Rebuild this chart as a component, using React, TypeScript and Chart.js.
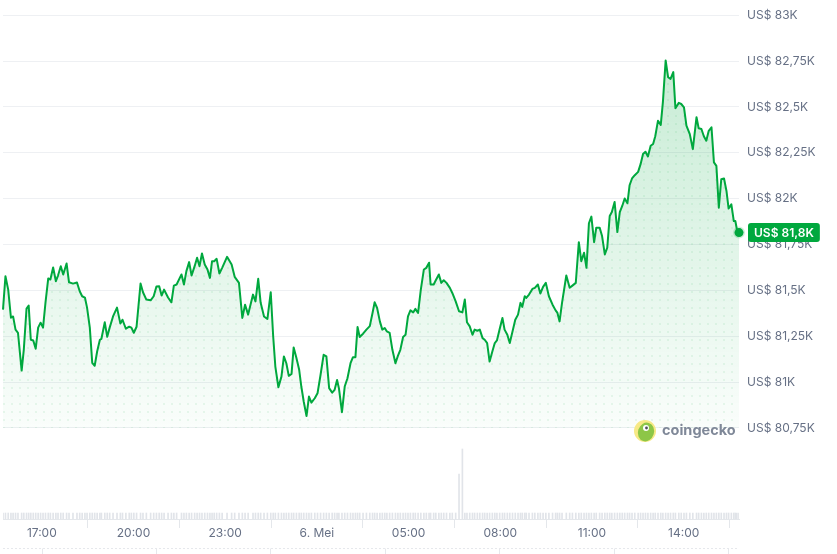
import React, { useEffect, useRef } from "react";
import { Chart, registerables } from "chart.js";

Chart.register(...registerables);

// time of each sample, in hours counted from 00:00 on 5 May (24+ = 6 May)
const times = [
  15.73, 15.81, 15.9, 15.99, 16.06, 16.14, 16.22, 16.34, 16.41, 16.5,
  16.57, 16.64, 16.72, 16.8, 16.88, 16.96, 17.04, 17.12, 17.21, 17.28,
  17.37, 17.46, 17.53, 17.62, 17.7, 17.81, 17.89, 18.02, 18.15, 18.24,
  18.32, 18.41, 18.48, 18.57, 18.65, 18.73, 18.81, 18.9, 18.95, 19.06,
  19.14, 19.22, 19.33, 19.46, 19.57, 19.64, 19.75, 19.86, 19.93, 20.01,
  20.1, 20.23, 20.31, 20.42, 20.56, 20.66, 20.75, 20.84, 20.92, 21.0,
  21.13, 21.24, 21.32, 21.41, 21.57, 21.65, 21.73, 21.82,
  21.9, 22.0, 22.08, 22.16, 22.24, 22.33, 22.42, 22.5, 22.57, 22.64,
  22.72, 22.81, 22.9, 23.06, 23.21, 23.31, 23.45, 23.56, 23.65, 23.75,
  23.91, 23.99, 24.08, 24.16, 24.27, 24.38, 24.49, 24.57, 24.64, 24.74,
  24.84, 24.92, 25.0, 25.08, 25.17, 25.24, 25.33, 25.42, 25.49, 25.57,
  25.66, 25.74, 25.82, 25.93, 26.02, 26.12, 26.22, 26.31, 26.4, 26.5,
  26.58, 26.66, 26.72, 26.82, 26.91, 27.0, 27.1, 27.18, 27.26, 27.33,
  27.4, 27.51, 27.62, 27.73,
  27.82, 27.89, 27.97, 28.06, 28.14, 28.22, 28.29, 28.38, 28.47, 28.57,
  28.65, 28.73, 28.82, 28.9, 28.98, 29.06, 29.15, 29.22, 29.31, 29.4,
  29.5, 29.58, 29.67, 29.72, 29.82, 29.89, 29.99, 30.07, 30.15, 30.24,
  30.35, 30.43, 30.54, 30.65, 30.76, 30.84, 30.91, 31.0, 31.09, 31.16,
  31.25, 31.33, 31.42, 31.49, 31.57, 31.65, 31.74, 31.82, 31.89, 31.98,
  32.07, 32.14, 32.23, 32.31, 32.4, 32.49, 32.58, 32.66, 32.72, 32.8,
  32.85, 32.94, 33.05, 33.13, 33.23, 33.31, 33.4, 33.49, 33.59, 33.71,
  33.81, 33.87, 33.94,
  34.02, 34.16, 34.27, 34.36, 34.47, 34.57, 34.65, 34.74, 34.82, 34.9,
  34.98, 35.07, 35.14, 35.25, 35.33, 35.42, 35.5, 35.58, 35.65, 35.74,
  35.83, 35.91, 35.99, 36.07, 36.16, 36.23, 36.31, 36.4, 36.51, 36.59,
  36.67, 36.75, 36.83, 36.92, 37.0, 37.07, 37.16, 37.25, 37.32, 37.41,
  37.49, 37.57, 37.66, 37.73, 37.84, 37.92, 38.01, 38.09, 38.2, 38.3,
  38.42, 38.49, 38.58, 38.66, 38.74, 38.82, 38.91, 38.99, 39.07, 39.15,
  39.23, 39.32, 39.4, 39.47, 39.56, 39.64, 39.69, 39.74, 39.81,
];

// BTC price in US$
const prices = [
  81395, 81577, 81504, 81351, 81358, 81286, 81269, 81063, 81176, 81401,
  81417, 81231, 81227, 81182, 81297, 81324, 81297, 81433, 81565, 81559,
  81625, 81550, 81581, 81632, 81587, 81647, 81544, 81537, 81543, 81495,
  81468, 81461, 81406, 81297, 81105, 81089, 81167, 81231, 81236, 81326,
  81247, 81297, 81358, 81406, 81319, 81340, 81291, 81302, 81297, 81269,
  81302, 81537, 81490, 81450, 81446, 81468, 81521, 81522, 81472, 81504,
  81461, 81435, 81526, 81532, 81587, 81532, 81605, 81654,
  81581, 81632, 81678, 81632, 81701, 81641, 81614, 81568, 81659, 81659,
  81672, 81592, 81623, 81683, 81641, 81574, 81541, 81350, 81422, 81368,
  81477, 81440, 81563, 81432, 81358, 81344, 81490, 81249, 81085, 80972,
  81030, 81140, 81103, 81034, 81045, 81189, 81131, 81067, 80976, 80893,
  80815, 80921, 80888, 80912, 80939, 81040, 81149, 81140, 80967, 80943,
  80958, 81012, 80967, 80836, 80976, 81021, 81103, 81136, 81136, 81300,
  81246, 81264, 81286, 81305,
  81377, 81435, 81404, 81331, 81286, 81295, 81276, 81268, 81176, 81103,
  81143, 81176, 81246, 81258, 81358, 81391, 81380, 81399, 81377, 81504,
  81614, 81623, 81651, 81532, 81532, 81555, 81587, 81541, 81555, 81541,
  81514, 81486, 81440, 81386, 81380, 81450, 81326, 81304, 81258, 81286,
  81280, 81286, 81240, 81231, 81213, 81112, 81167, 81213, 81227, 81290,
  81350, 81286, 81258, 81213, 81276, 81340, 81368, 81432, 81410, 81468,
  81459, 81477, 81508, 81514, 81532, 81483, 81519, 81541, 81468, 81422,
  81391, 81377, 81331,
  81432, 81581, 81514, 81526, 81541, 81763, 81659, 81705, 81623, 81866,
  81902, 81763, 81842, 81842, 81796, 81696, 81733, 81905, 81927, 81982,
  81818, 81927, 81960, 82001, 81975, 82073, 82110, 82128, 82146, 82188,
  82243, 82256, 82230, 82288, 82298, 82340, 82425, 82402, 82526, 82753,
  82662, 82653, 82690, 82493, 82522, 82516, 82498, 82398, 82352, 82270,
  82444, 82384, 82380, 82340, 82316, 82370, 82389, 82198, 82179, 81951,
  82106, 82110, 82042, 81946, 81969, 81878, 81878, 81833, 81815,
];

// trading volume per sample (relative units)
const volumes = [
  6, 6, 6, 6, 6, 6, 6, 6, 6, 6, 6, 6, 6, 6, 6, 6, 6, 6, 6, 6,
  6, 6, 6, 6, 6, 6, 6, 6, 6, 6, 6, 6, 6, 6, 6, 6, 6, 6, 6, 6,
  6, 6, 6, 6, 6, 6, 6, 6, 6, 6, 6, 6, 6, 6, 6, 6, 6, 6, 6, 6,
  6, 6, 6, 6, 6, 6, 6, 6, 6, 6, 6, 6, 6, 6, 6, 6, 6, 6, 6, 6,
  6, 6, 6, 6, 6, 6, 6, 6, 6, 6, 6, 6, 6, 6, 6, 6, 6, 6, 6, 6,
  6, 6, 6, 6, 6, 6, 6, 6, 6, 6, 6, 6, 6, 6, 6, 6, 6, 6, 6, 6,
  6, 6, 6, 6, 6, 6, 6, 6, 6, 6, 6, 6, 6, 6, 6, 6, 6, 6, 6, 6,
  6, 6, 6, 6, 6, 6, 6, 6, 6, 6, 6, 6, 6, 6, 6, 6, 6, 6, 6, 6,
  6, 6, 6, 6, 6, 45, 70,
  6, 6, 6, 6, 6, 6, 6, 6, 6, 6, 6, 6, 6, 6, 6, 6, 6, 6, 6, 6,
  6, 6, 6, 6, 6, 6, 6, 6, 6, 6, 6, 6, 6, 6, 6, 6, 6, 6, 6, 6,
  6, 6, 6, 6, 6, 6, 6, 6, 6, 6, 6, 6, 6, 6, 6, 6, 6, 6, 6, 6,
  6, 6, 6, 6, 6, 6, 6, 6, 6, 6, 6, 6, 6, 6, 6, 6, 6, 6, 6, 6,
  6, 6, 6, 6, 6, 6, 6, 6, 6, 6, 6, 6, 6, 6, 6, 6, 6, 6, 6, 6,
  6, 6, 6, 6, 6, 6, 6,
];

const yTicks = [80750, 81000, 81250, 81500, 81750, 82000, 82250, 82500, 82750, 83000];
const yTickLabels = [
  "US$ 80,75K", "US$ 81K", "US$ 81,25K", "US$ 81,5K", "US$ 81,75K",
  "US$ 82K", "US$ 82,25K", "US$ 82,5K", "US$ 82,75K", "US$ 83K",
];
const xTicks = [17, 20, 23, 26, 29, 32, 35, 38];
const xTickLabels = ["17:00", "20:00", "23:00", "6. Mei", "05:00", "08:00", "11:00", "14:00"];
const navTicks = [17, 20.73, 24.46, 28.22, 31.95, 35.72, 39.45];
const lastLabel = "US$ 81,8K";

const GREEN = "#00a83e";
const LABEL = "#667085";
const GRID = "#eef0f3";
const FONT = "Inter, 'Noto Sans', sans-serif";

const overlayPlugin = {
  id: "overlay",
  afterDraw(chart: any) {
    const { ctx, chartArea, scales } = chart;
    const ys = scales.y;
    const xs = scales.x;
    ctx.save();

    // navigator strip at the bottom
    const navY = Math.round(xs.top + 29) + 0.5;
    ctx.strokeStyle = "#e6e8ec";
    ctx.lineWidth = 1;
    ctx.setLineDash([2, 2]);
    ctx.beginPath();
    ctx.moveTo(chartArea.left, navY);
    ctx.lineTo(chartArea.right, navY);
    ctx.stroke();
    ctx.setLineDash([]);
    ctx.beginPath();
    navTicks.forEach((t) => {
      const px = Math.round(xs.getPixelForValue(t)) + 0.5;
      ctx.moveTo(px, navY);
      ctx.lineTo(px, chart.height);
    });
    ctx.stroke();

    // coingecko watermark
    const lx = chartArea.right - 94;
    const ly = ys.bottom + 3;
    ctx.fillStyle = "#f7e986";
    ctx.beginPath();
    ctx.arc(lx, ly, 11, 0, Math.PI * 2);
    ctx.fill();
    ctx.fillStyle = "#8dc647";
    ctx.beginPath();
    ctx.ellipse(lx + 1, ly + 1, 8, 9.5, 0.3, 0, Math.PI * 2);
    ctx.fill();
    ctx.fillStyle = "#ffffff";
    ctx.beginPath();
    ctx.arc(lx + 1, ly - 3, 3, 0, Math.PI * 2);
    ctx.fill();
    ctx.fillStyle = "#4b4f58";
    ctx.beginPath();
    ctx.arc(lx + 1.5, ly - 3, 1.4, 0, Math.PI * 2);
    ctx.fill();
    ctx.fillStyle = "#7f8898";
    ctx.font = `700 14.5px ${FONT}`;
    ctx.textBaseline = "middle";
    ctx.textAlign = "left";
    ctx.fillText("coingecko", lx + 17, ly);

    // current price badge
    const last = prices.length - 1;
    const by = ys.getPixelForValue(prices[last]);
    ctx.font = `600 12px ${FONT}`;
    const tw = ctx.measureText(lastLabel).width;
    const bx = chartArea.right + 9;
    const bw = tw + 12;
    const bh = 19;
    ctx.fillStyle = GREEN;
    ctx.beginPath();
    ctx.roundRect(bx, by - bh / 2, bw, bh, 3);
    ctx.fill();
    ctx.fillStyle = "#ffffff";
    ctx.fillText(lastLabel, bx + 6, by + 0.5);
    ctx.restore();
  },
};

export default function App() {
  const ref = useRef<HTMLCanvasElement>(null);

  useEffect(() => {
    document.body.style.margin = "0";
    const canvas = ref.current!;
    const pc = document.createElement("canvas");
    pc.width = 8;
    pc.height = 8;
    const pctx = pc.getContext("2d")!;
    pctx.fillStyle = "rgba(0,168,62,0.10)";
    pctx.beginPath();
    pctx.arc(4, 4, 1, 0, Math.PI * 2);
    pctx.fill();
    const pattern = canvas.getContext("2d")!.createPattern(pc, "repeat");

    const pts = times.map((t, i) => ({ x: t, y: prices[i] }));
    const vol = times.map((t, i) => ({ x: t, y: volumes[i] }));
    const lastIdx = prices.length - 1;
    const maxPrice = Math.max(...prices);

    const chart = new Chart(canvas, {
      type: "line",
      data: {
        datasets: [
          {
            data: pts,
            yAxisID: "y",
            borderColor: GREEN,
            borderWidth: 2,
            borderJoinStyle: "round",
            tension: 0,
            clip: false,
            pointRadius: (c: any) => (c.dataIndex === lastIdx ? 4.5 : 0),
            pointBackgroundColor: GREEN,
            pointBorderColor: "rgba(0,168,62,0.18)",
            pointBorderWidth: 3,
            fill: { value: 80750 },
            backgroundColor: (c: any) => {
              const ch = c.chart;
              if (!ch.chartArea) return "rgba(0,168,62,0.1)";
              const ys = ch.scales.y;
              const g = ch.ctx.createLinearGradient(0, ys.getPixelForValue(maxPrice), 0, ys.bottom);
              g.addColorStop(0, "rgba(0,168,62,0.22)");
              g.addColorStop(1, "rgba(0,168,62,0.02)");
              return g;
            },
            order: 0,
          } as any,
          {
            data: pts,
            yAxisID: "y",
            borderWidth: 0,
            pointRadius: 0,
            fill: { value: 80750 },
            backgroundColor: pattern as any,
            order: 1,
          } as any,
          {
            type: "bar",
            data: vol,
            yAxisID: "vol",
            backgroundColor: "#e1e4e9",
            barThickness: 1,
            grouped: false,
            order: 2,
          } as any,
        ],
      },
      options: {
        animation: false,
        responsive: false,
        events: [],
        layout: { autoPadding: false, padding: { top: 15, left: 3, right: 0, bottom: 0 } },
        plugins: { legend: { display: false }, tooltip: { enabled: false } },
        scales: {
          x: {
            type: "linear",
            min: times[0],
            max: times[times.length - 1],
            offset: false,
            afterBuildTicks: (s: any) => {
              s.ticks = xTicks.map((v) => ({ value: v }));
            },
            afterFit: (s: any) => {
              s.height = 35;
              s.paddingLeft = 0;
              s.paddingRight = 0;
            },
            grid: {
              drawOnChartArea: false,
              drawTicks: true,
              tickLength: 9,
              color: "#e4e7eb",
            },
            border: { display: true, color: "#e4e7eb" },
            ticks: {
              autoSkip: false,
              maxRotation: 0,
              padding: -2,
              color: LABEL,
              font: { family: FONT, size: 12 },
              callback: (_v: any, i: number) => xTickLabels[i],
            },
          },
          y: {
            type: "linear",
            position: "right",
            stack: "main",
            stackWeight: 412.7,
            min: 80750,
            max: 83000,
            afterBuildTicks: (s: any) => {
              s.ticks = yTicks.map((v) => ({ value: v }));
            },
            afterFit: (s: any) => {
              s.width = 98;
            },
            grid: { color: GRID, drawTicks: false },
            border: { display: false },
            ticks: {
              padding: 8,
              color: LABEL,
              font: { family: FONT, size: 12 },
              callback: (_v: any, i: number) => yTickLabels[i],
            },
          },
          vol: {
            type: "linear",
            position: "right",
            stack: "main",
            stackWeight: 91,
            min: 0,
            max: 91,
            afterFit: (s: any) => {
              s.width = 98;
            },
            grid: { display: false, drawTicks: false },
            border: { display: false },
            ticks: { display: false },
          },
        },
      } as any,
      plugins: [overlayPlugin],
    });
    return () => chart.destroy();
  }, []);

  return (
    <div style={{ width: 837, height: 554, background: "#fff" }}>
      <canvas ref={ref} width={837} height={554} style={{ display: "block" }} />
    </div>
  );
}
